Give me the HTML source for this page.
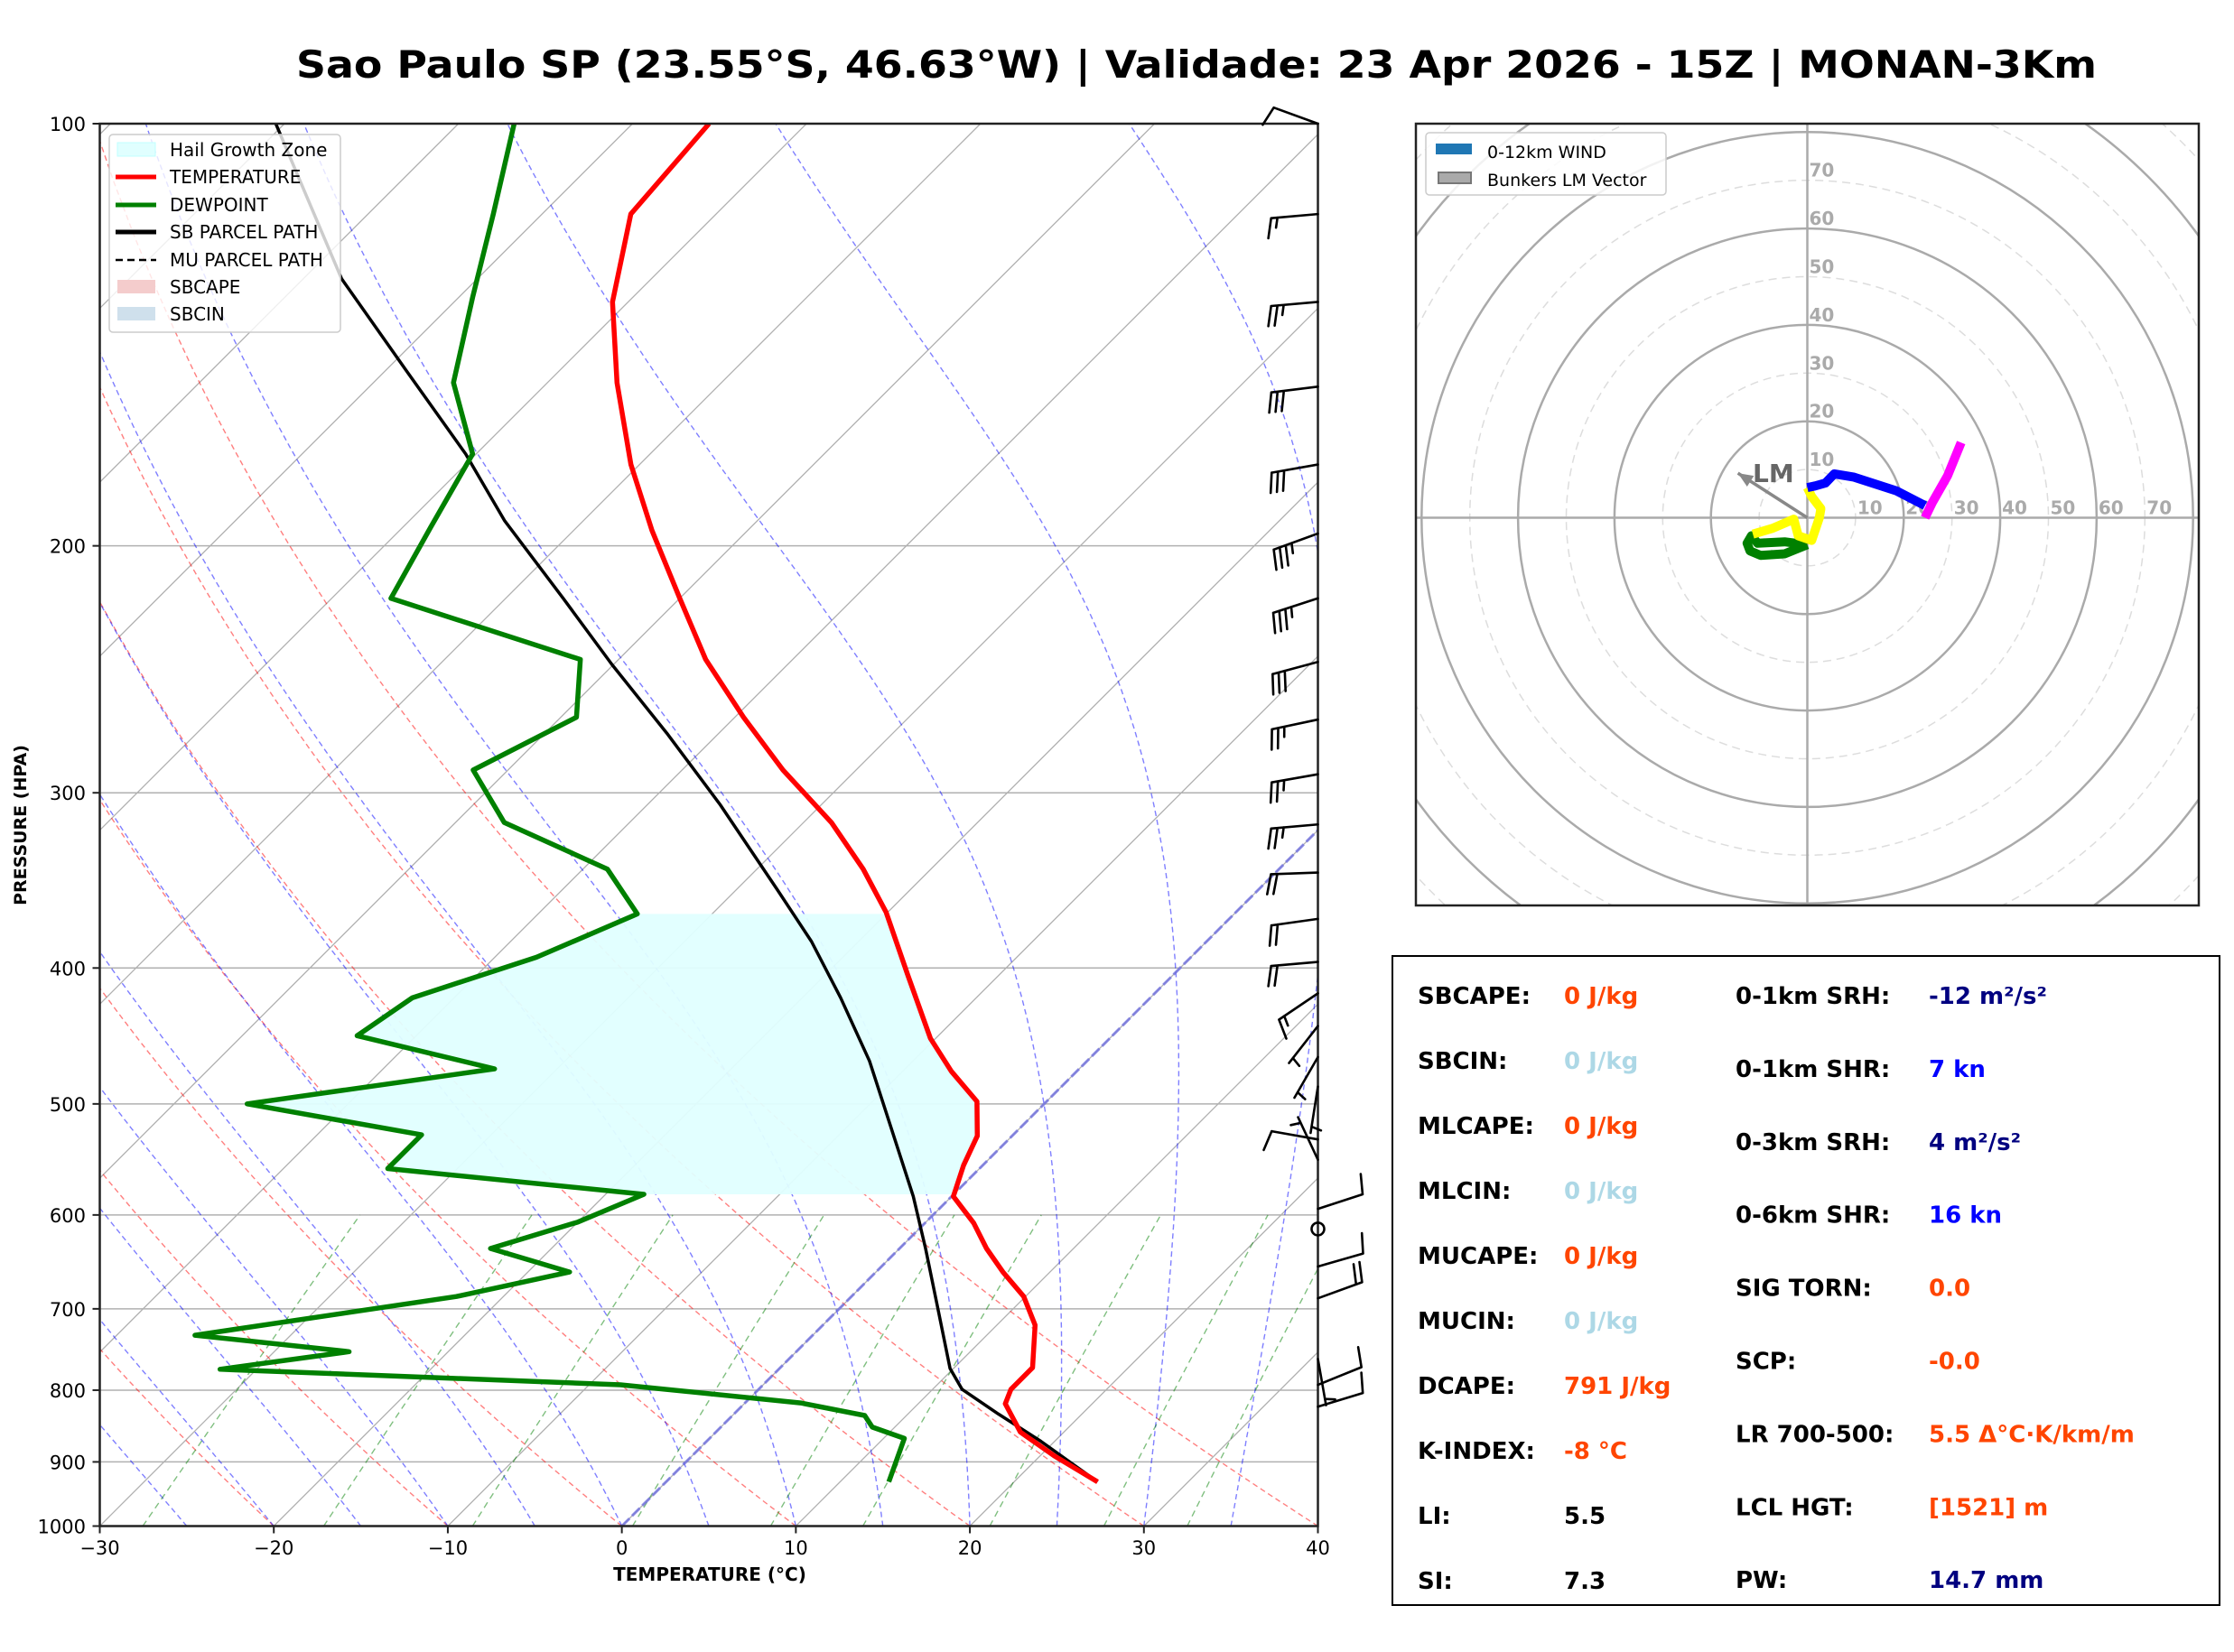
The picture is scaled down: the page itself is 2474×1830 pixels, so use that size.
<!DOCTYPE html>
<html><head><meta charset="utf-8">
<style>
html,body{margin:0;padding:0;background:#fff;}
svg{display:block;font-family:"DejaVu Sans","Liberation Sans",sans-serif;}
</style></head>
<body>
<svg id="root" width="2474" height="1830" viewBox="0 0 2474 1830" xmlns="http://www.w3.org/2000/svg">
<defs>
<clipPath id="skewclip"><rect x="110.5" y="137" width="1349" height="1553.5"/></clipPath>
<clipPath id="hodoclip"><rect x="1568" y="137" width="867" height="866"/></clipPath>
</defs>
<text x="1325" y="86" text-anchor="middle" font-size="42" font-weight="bold" textLength="1994" lengthAdjust="spacingAndGlyphs">Sao Paulo SP (23.55°S, 46.63°W) | Validade: 23 Apr 2026 - 15Z | MONAN-3Km</text>
<g id="skew"></g>
<g id="hodo"></g>
<g id="stats">
<rect x="1542" y="1059" width="916" height="719" fill="#fff" stroke="#000" stroke-width="2"/>
</g>
</svg>
<script>
// ---- Sounding data (pressure hPa, temperature degC) ----
const tempP = [100,116,134,153,175,195,218,241,265,289,315,340,365,405,449,474,498,527,553,582,608,634,659,686,719,771,799,818,857,891,930];
const tempT = [-75.6,-74.9,-70.9,-66.0,-60.5,-55.5,-50.0,-45.0,-39.5,-34.2,-28.4,-23.9,-20.1,-15.2,-10.3,-7.2,-4.0,-2.0,-1.1,0.1,2.8,5.0,7.3,9.9,12.2,14.5,14.5,15.0,17.5,20.8,24.8];
const dewP = [100,116,133,153,172,194,218,241,265,289,315,340,366,393,420,447,472,500,526,556,580,607,634,659,686,731,751,773,793,817,834,850,866,930];
const dewT = [-86.8,-82.8,-79.2,-75.4,-70.2,-68.4,-66.6,-52.2,-49.1,-52.0,-47.2,-38.6,-34.3,-37.6,-42.4,-43.4,-33.6,-45.8,-34.0,-34.0,-17.8,-20.0,-23.5,-17.6,-22.7,-35.5,-25.7,-32.1,-8.2,3.2,7.6,8.7,11.2,12.8];
const parcelP = [100,129,150,172,192,218,243,272,306,352,383,420,466,518,582,634,702,772,799,832,870,930];
const parcelT = [-100.5,-87.8,-78.8,-70.6,-64.5,-56.7,-50.1,-43.0,-35.8,-27.6,-22.7,-17.8,-12.5,-7.6,-2.2,1.5,5.8,9.8,11.7,15.2,19.2,24.8];
const hailTop = 366, hailBottom = 580;
// wind barbs: pressure, direction (deg from), speed (kt); speed 0 = calm
const windP   = [100,116,134,154,175,196,218,242,266,291,316,342,369,396,417,440,463,486,530,548,594,614,653,688,760,793,822];
const windDir = [290,265,265,263,260,250,252,255,258,260,265,268,262,265,236,218,210,189,280,335,72,0,74,70,170,68,73];
const windSpd = [10,15,25,30,30,35,35,30,25,25,25,20,20,20,15,5,5,5,10,5,10,0,10,20,5,10,10];
// hodograph segments (u,v kt)
const hodoGreenU = [0,-4.7,-9.7,-11.9,-12.5,-11.6,-10.3,-4.7,0];
const hodoGreenV = [-5.6,-7.5,-7.8,-6.9,-5.3,-3.75,-5.3,-5.0,-5.6];
const hodoYellowU = [-11.3,-7.2,-2.8,-1.9,0.9,2.5,2.8,0.9,0];
const hodoYellowV = [-3.4,-2.2,-0.3,-3.75,-4.7,0,1.9,4.4,6.25];
const hodoBlueU = [0,1.6,3.75,5.6,9.7,18.4,24.4];
const hodoBlueV = [6.25,6.6,7.2,9.1,8.4,5.6,2.5];
const hodoMagU = [24.4,25.9,29.1,31.9];
const hodoMagV = [0,3.1,8.75,15.6];
const bunkersLM = [-14.4,9.25];
// axis ticks
const pTicks = [100,200,300,400,500,600,700,800,900,1000];
const tTicks = [-30,-20,-10,0,10,20,30,40];
const hodoRingLabels = [10,20,30,40,50,60,70];

const NS='http://www.w3.org/2000/svg';
function mk(parent,tag,attrs,text){const e=document.createElementNS(NS,tag);for(const k in attrs)e.setAttribute(k,attrs[k]);if(text!==undefined)e.textContent=text;parent.appendChild(e);return e;}

// ---- skew-T scales ----
const xL=110.5,xR=1459.5,yT=137,yB=1690.5,kT=(xR-xL)/70;
function yP(p){return yT+(yB-yT)*Math.log10(p/100);}
function xT(T,p){return xL+(T+30)*kT+(yB-yP(p));}
function ptsStr(P,T){return P.map((p,i)=>xT(T[i],p).toFixed(1)+','+yP(p).toFixed(1)).join(' ');}
function interp(P,T,p){for(let i=0;i<P.length-1;i++){if(p>=P[i]&&p<=P[i+1]){const f=(Math.log(p)-Math.log(P[i]))/(Math.log(P[i+1])-Math.log(P[i]));return T[i]+f*(T[i+1]-T[i]);}}return T[T.length-1];}

const skew=document.getElementById('skew');
const clipG=mk(skew,'g',{'clip-path':'url(#skewclip)'});


const bg=mk(clipG,'g',{});


for(const p of pTicks){const l=mk(bg,'line',{x1:xL,x2:xR,y1:yP(p),y2:yP(p),stroke:'#b0b0b0','stroke-width':1.5});}
for(let T=-130;T<=40;T+=10){const l=mk(bg,'line',{x1:xT(T,1000),y1:yP(1000),x2:xT(T,100),y2:yP(100),stroke:'#b0b0b0','stroke-width':1.3});}
for(let t0=-30;t0<=40;t0+=10){let pts=[];for(let p=1000;p>=100;p-=10){const T=(t0+273.15)*Math.pow(p/1000,0.2857)-273.15;pts.push(xT(T,p).toFixed(1)+','+yP(p).toFixed(1));}
const l=mk(bg,'polyline',{points:pts.join(' '),fill:'none',stroke:'#ff0000','stroke-opacity':0.5,'stroke-width':1.4,'stroke-dasharray':'6,4'});}
function es(Tc){return 6.112*Math.exp(17.67*Tc/(Tc+243.5));}
for(let t0=-30;t0<=40;t0+=5){let T=t0+273.15,pts=[];for(let p=1000;p>=100;p-=2){pts.push(xT(T-273.15,p).toFixed(1)+','+yP(p).toFixed(1));const e=es(T-273.15),rs=0.622*e/(p-e);const dTdp=(1/p)*(287*T+2.5e6*rs)/(1005+(2.5e6*2.5e6*rs*0.622)/(287*T*T));T-=dTdp*2;}
const l=mk(bg,'polyline',{points:pts.join(' '),fill:'none',stroke:'#0000ff','stroke-opacity':0.5,'stroke-width':1.4,'stroke-dasharray':'6,4'});}
for(const w of [0.0004,0.001,0.002,0.004,0.007,0.01,0.016,0.024,0.032]){let pts=[];for(let p=1000;p>=600;p-=20){const e=w*p/(0.622+w),a=Math.log(e/6.112),Td=243.5*a/(17.67-a);pts.push(xT(Td,p).toFixed(1)+','+yP(p).toFixed(1));}
const l=mk(bg,'polyline',{points:pts.join(' '),fill:'none',stroke:'#008000','stroke-opacity':0.5,'stroke-width':1.4,'stroke-dasharray':'7,5'});}
const zl=mk(clipG,'line',{x1:xT(0,1000),y1:yP(1000),x2:xT(0,100),y2:yP(100),stroke:'#7070e0','stroke-width':3,'stroke-dasharray':'12,4','stroke-opacity':0.8});


{let left=[],right=[];const ps=[];for(let p=hailTop;p<=hailBottom;p+=2)ps.push(p);
for(const p of ps)left.push(xT(interp(dewP,dewT,p),p).toFixed(1)+','+yP(p).toFixed(1));
for(const p of ps.slice().reverse())right.push(xT(interp(tempP,tempT,p),p).toFixed(1)+','+yP(p).toFixed(1));
const h=mk(clipG,'polygon',{points:left.concat(right).join(' '),fill:'#e0ffff','fill-opacity':0.95});

}
const parcel=mk(clipG,'polyline',{points:ptsStr(parcelP,parcelT),fill:'none',stroke:'#000','stroke-width':3.5,'stroke-linejoin':'round'});


const dew=mk(clipG,'polyline',{points:ptsStr(dewP,dewT),fill:'none',stroke:'#008000','stroke-width':5.5,'stroke-linejoin':'round'});


const tmp=mk(clipG,'polyline',{points:ptsStr(tempP,tempT),fill:'none',stroke:'#ff0000','stroke-width':5.5,'stroke-linejoin':'round'});


const fr=mk(skew,'rect',{x:xL,y:yT,width:xR-xL,height:yB-yT,fill:'none',stroke:'#222','stroke-width':2.5});


for(const p of pTicks){mk(skew,'line',{x1:xL-8,x2:xL,y1:yP(p),y2:yP(p),stroke:'#222','stroke-width':2});
const t=mk(skew,'text',{x:95,y:yP(p)+8,'text-anchor':'end','font-size':21},String(p));}
for(const T of tTicks){const x=xL+(T+30)*kT;mk(skew,'line',{x1:x,x2:x,y1:yB,y2:yB+8,stroke:'#222','stroke-width':2});
const t=mk(skew,'text',{x:x,y:1722,'text-anchor':'middle','font-size':21},(T<0?'\u2212':'')+Math.abs(T));}
{const t=mk(skew,'text',{x:786,y:1751,'text-anchor':'middle','font-size':20,'font-weight':'bold'},'TEMPERATURE (°C)');
const t2=mk(skew,'text',{x:29,y:914,'text-anchor':'middle','font-size':19,'font-weight':'bold',transform:'rotate(-90 29 914)'},'PRESSURE (HPA)');}
const barbs=mk(skew,'g',{stroke:'#000','stroke-width':2.6,fill:'none','stroke-linecap':'round'});


for(let i=0;i<windP.length;i++){const ax=xR,ay=yP(windP[i]);
if(windSpd[i]===0){const c=mk(barbs,'circle',{cx:ax,cy:ay,r:7});continue;}
const d=windDir[i]*Math.PI/180,sx=Math.sin(d),sy=-Math.cos(d),L=52;const ex=ax+sx*L,ey=ay+sy*L;const px=sy,py=-sx;
let path='M'+ax+','+ay+' L'+ex.toFixed(1)+','+ey.toFixed(1);let spd=windSpd[i],pos=0;
while(spd>=10){const bx=ex-sx*pos,by=ey-sy*pos;path+=' M'+bx.toFixed(1)+','+by.toFixed(1)+' L'+(bx+px*22+sx*5).toFixed(1)+','+(by+py*22+sy*5).toFixed(1);spd-=10;pos+=7;}
if(spd>=5){if(pos===0)pos=7;const bx=ex-sx*pos,by=ey-sy*pos;path+=' M'+bx.toFixed(1)+','+by.toFixed(1)+' L'+(bx+px*11+sx*2.5).toFixed(1)+','+(by+py*11+sy*2.5).toFixed(1);}
const b=mk(barbs,'path',{d:path});}
{const lg=mk(skew,'g',{});
mk(lg,'rect',{x:121,y:149,width:256,height:219,rx:4,fill:'#fff','fill-opacity':0.8,stroke:'#ccc','stroke-width':1.5});
const items=[['Hail Growth Zone','patch','#e0ffff'],['TEMPERATURE','line','#ff0000'],['DEWPOINT','line','#008000'],['SB PARCEL PATH','line','#000'],['MU PARCEL PATH','dash','#000'],['SBCAPE','patch','#f4cccc'],['SBCIN','patch','#cfe0ec']];
const base=[173,203,234,264,295,325,355];
items.forEach((it,i)=>{const y=base[i]-7;if(it[1]==='patch')mk(lg,'rect',{x:130,y:y-8,width:42,height:15,fill:it[2],stroke:it[0]==='Hail Growth Zone'?'#c0ffff':'none'});
else mk(lg,'line',{x1:128,x2:173,y1:y,y2:y,stroke:it[2],'stroke-width':it[1]==='dash'?2.5:5,'stroke-dasharray':it[1]==='dash'?'8,5':'none'});
const t=mk(lg,'text',{x:188,y:base[i],'font-size':20},it[0]);});}

// ---- hodograph ----
const hodo=document.getElementById('hodo');
const hcx=2001.5,hcy=573.5,hk=5.34;
function hx(u){return hcx+u*hk;}function hy(v){return hcy-v*hk;}
const hg=mk(hodo,'g',{'clip-path':'url(#hodoclip)'});


for(let r=10;r<=120;r+=10){const c=mk(hg,'circle',{cx:hcx,cy:hcy,r:r*hk,fill:'none',stroke:r%20===0?'#aaa':'#ddd','stroke-width':r%20===0?2.5:1.5,'stroke-dasharray':r%20===0?'none':'9,6'});}
mk(hg,'line',{x1:1568,x2:2435,y1:hcy,y2:hcy,stroke:'#aaa','stroke-width':2.5});
mk(hg,'line',{x1:hcx,x2:hcx,y1:137,y2:1003,stroke:'#aaa','stroke-width':2.5});
for(const r of hodoRingLabels){const t=mk(hg,'text',{x:hx(r)+2,y:hcy-4,'font-size':20,fill:'#aaa','font-weight':'bold'},String(r));
const t2=mk(hg,'text',{x:hcx+2,y:hy(r)-4,'font-size':20,fill:'#aaa','font-weight':'bold'},String(r));}
function seg(U,V,col,name){const s=mk(hg,'polyline',{points:U.map((u,i)=>hx(u).toFixed(1)+','+hy(V[i]).toFixed(1)).join(' '),fill:'none',stroke:col,'stroke-width':10,'stroke-linejoin':'round'});}
seg(hodoGreenU,hodoGreenV,'#008000','hodograph-0-3km');
seg(hodoYellowU,hodoYellowV,'#ffff00','hodograph-3-6km');
seg(hodoBlueU,hodoBlueV,'#0000ff','hodograph-6-9km');
seg(hodoMagU,hodoMagV,'#ff00ff','hodograph-9-12km');
{const tx=hx(bunkersLM[0]),ty=hy(bunkersLM[1]);const a=mk(hg,'line',{x1:hcx,y1:hcy,x2:tx,y2:ty,stroke:'#888','stroke-width':3.5});
const ang=Math.atan2(ty-hcy,tx-hcx),hl=18;mk(hg,'polygon',{points:tx+','+ty+' '+(tx-hl*Math.cos(ang-0.4))+','+(ty-hl*Math.sin(ang-0.4))+' '+(tx-hl*Math.cos(ang+0.4))+','+(ty-hl*Math.sin(ang+0.4)),fill:'#888'});
const t=mk(hg,'text',{x:1941,y:534,'font-size':28,'font-weight':'bold',fill:'#666'},'LM');}
const hf=mk(hodo,'rect',{x:1568,y:137,width:867,height:866,fill:'none',stroke:'#222','stroke-width':2.5});


{const lg=mk(hodo,'g',{});
mk(lg,'rect',{x:1579,y:147,width:266,height:69,rx:4,fill:'#fff','fill-opacity':0.85,stroke:'#ccc','stroke-width':1.5});
mk(lg,'rect',{x:1590,y:159,width:40,height:12,fill:'#1f77b4'});
mk(lg,'rect',{x:1593,y:191,width:36,height:12,fill:'#aaa',stroke:'#777','stroke-width':2});
const t1=mk(lg,'text',{x:1647,y:175,'font-size':19},'0-12km WIND');
const t2=mk(lg,'text',{x:1647,y:206,'font-size':19},'Bunkers LM Vector');}

// ---- stats ----
const stats=document.getElementById('stats');
const leftLabels=['SBCAPE:','SBCIN:','MLCAPE:','MLCIN:','MUCAPE:','MUCIN:','DCAPE:','K-INDEX:','LI:','SI:'];
const leftValues=['0 J/kg','0 J/kg','0 J/kg','0 J/kg','0 J/kg','0 J/kg','791 J/kg','-8 °C','5.5','7.3'];
const leftColors=['#ff4500','#add8e6','#ff4500','#add8e6','#ff4500','#add8e6','#ff4500','#ff4500','#000','#000'];
const rightLabels=['0-1km SRH:','0-1km SHR:','0-3km SRH:','0-6km SHR:','SIG TORN:','SCP:','LR 700-500:','LCL HGT:','PW:'];
const rightValues=['-12 m²/s²','7 kn','4 m²/s²','16 kn','0.0','-0.0','5.5 Δ°C·K/km/m','[1521] m','14.7 mm'];
const rightColors=['#000080','#0000ff','#000080','#0000ff','#ff4500','#ff4500','#ff4500','#ff4500','#000080'];
leftLabels.forEach((l,i)=>{const y=1112+72*i;
const a=mk(stats,'text',{x:1570,y:y,'font-size':26,'font-weight':'bold'},l);
const b=mk(stats,'text',{x:1732,y:y,'font-size':26,'font-weight':'bold',fill:leftColors[i]},leftValues[i]);});
rightLabels.forEach((l,i)=>{const y=1112+80.9*i;
const a=mk(stats,'text',{x:1922,y:y,'font-size':26,'font-weight':'bold'},l);
const b=mk(stats,'text',{x:2136,y:y,'font-size':26,'font-weight':'bold',fill:rightColors[i]},rightValues[i]);});
</script>
</body></html>
